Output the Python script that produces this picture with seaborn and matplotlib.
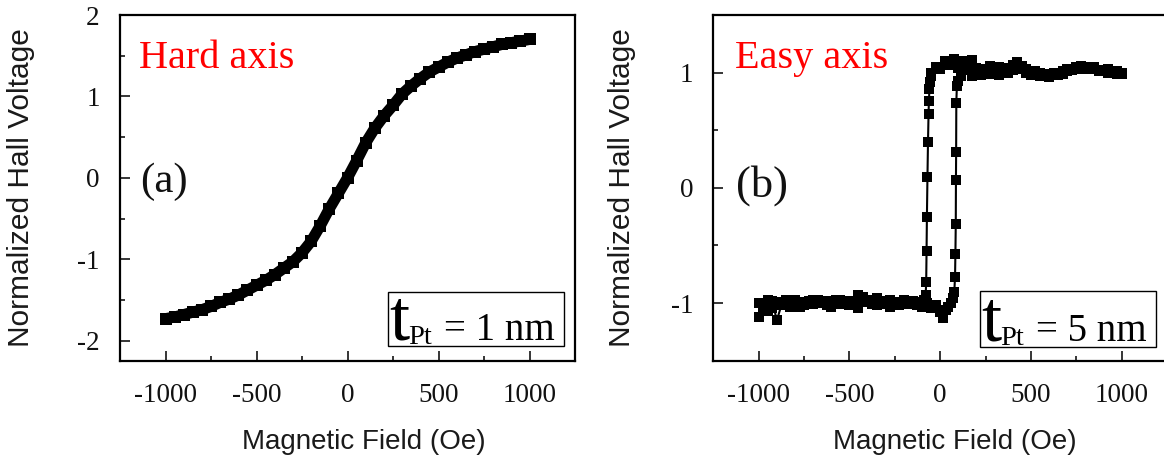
import numpy as np
import pandas as pd
import matplotlib
matplotlib.use("Agg")
import matplotlib.pyplot as plt
import seaborn as sns
from matplotlib.patches import Rectangle
from matplotlib.ticker import FixedLocator, MultipleLocator

# ---------------- data ----------------
# (a) hard axis, t_Pt = 1 nm
hard_field = [-1000, -950, -900, -850, -800, -750, -700, -650, -600, -550, -500,
              -450, -400, -350, -300, -250, -200, -150, -100, -50, 0,
              50, 100, 150, 200, 250, 300, 350, 400, 450, 500,
              550, 600, 650, 700, 750, 800, 850, 900, 950, 1000]
hard_voltage = [-1.73, -1.71, -1.68, -1.65, -1.62, -1.58, -1.53, -1.49, -1.44, -1.38, -1.32,
                -1.26, -1.19, -1.11, -1.03, -0.92, -0.78, -0.59, -0.38, -0.19, 0.00,
                0.21, 0.43, 0.61, 0.76, 0.89, 1.03, 1.13, 1.22, 1.30, 1.36,
                1.42, 1.47, 1.51, 1.55, 1.58, 1.61, 1.64, 1.66, 1.68, 1.70]

# (b) easy axis, t_Pt = 5 nm : descending sweep (+1000 -> -1000)
easy_down_field = [1000, 975, 950, 925, 900, 875, 850, 825, 800, 775, 750, 725, 700, 675,
                   650, 625, 600, 575, 550, 525, 500, 475, 450, 425, 400, 375, 350, 325,
                   300, 275, 250, 225, 200, 175, 150, 125, 100, 75, 50, 25, 0, -25, -50,
                   -52, -56, -59, -62, -64, -67, -70, -73, -75, -77, -80, -90, -100,
                   -125, -150, -175, -200, -225, -250, -275, -300, -325, -350, -375, -400,
                   -425, -450, -475, -500, -525, -550, -575, -600, -625, -650, -675, -700,
                   -725, -750, -775, -800, -825, -850, -875, -900, -925, -950, -975, -1000]
easy_down_voltage = [1.00, 0.99, 1.01, 1.00, 1.02, 1.01, 1.03, 1.04, 1.05, 1.03, 1.04, 1.02, 1.01, 0.99,
                     0.98, 0.99, 0.97, 0.99, 1.00, 0.98, 1.01, 1.03, 1.06, 1.04, 1.02, 1.00, 1.03, 1.05,
                     1.02, 0.99, 1.01, 1.03, 1.00, 0.97, 1.06, 1.10, 1.04, 1.12, 1.07, 1.10, 1.03, 1.05, 1.00,
                     0.97, 0.92, 0.86, 0.755, 0.64, 0.40, 0.095, -0.25, -0.55, -0.82, -0.93, -0.97, -0.99,
                     -1.02, -0.98, -1.00, -0.97, -1.01, -0.99, -1.03, -0.98, -1.00, -0.96, -1.01, -0.99,
                     -0.95, -0.93, -0.98, -1.02, -0.99, -1.01, -0.97, -0.99, -1.02, -0.98, -1.00, -0.97,
                     -1.01, -0.99, -1.03, -0.98, -1.00, -0.97, -1.02, -0.99, -1.04, -0.97, -1.06, -1.00]

# (b) ascending sweep (-1000 -> +1000)
easy_up_field = [-1000, -975, -950, -925, -900, -875, -850, -825, -800, -775, -750, -725, -700,
                 -675, -650, -625, -600, -575, -550, -525, -500, -475, -450, -425, -400, -375,
                 -350, -325, -300, -275, -250, -225, -200, -175, -150, -125, -100, -75, -50,
                 -25, 0, 15, 30, 45, 60, 70, 78, 82, 84, 86, 87, 88, 89, 92, 100, 115,
                 125, 150, 175, 200, 225, 250, 275, 300, 325, 350, 375, 400, 425, 450, 475,
                 500, 525, 550, 575, 600, 625, 650, 675, 700, 725, 750, 775, 800, 825, 850,
                 875, 900, 925, 950, 975, 1000]
easy_up_voltage = [-1.12, -1.02, -1.07, -0.98, -1.15, -1.02, -0.99, -1.03, -0.97, -1.00, -1.02, -0.98, -1.01,
                   -0.97, -1.00, -0.98, -1.03, -0.99, -0.97, -1.00, -0.98, -1.01, -1.04, -0.99, -0.97, -1.00,
                   -1.02, -0.98, -1.01, -0.97, -1.00, -1.02, -0.99, -1.01, -0.98, -1.00, -1.03, -1.00, -1.04,
                   -1.02, -1.08, -1.13, -1.06, -1.03, -1.00, -0.96, -0.90, -0.77, -0.57, -0.31, 0.07, 0.31, 0.74, 0.88, 0.93, 0.97,
                   1.08, 1.02, 1.11, 1.04, 0.98, 1.03, 1.06, 1.01, 0.98, 1.04, 1.02, 1.07, 1.09, 1.03, 1.00,
                   0.98, 1.01, 0.97, 0.99, 0.96, 1.00, 0.98, 1.01, 1.03, 1.02, 1.05, 1.06, 1.04, 1.03, 1.05,
                   1.02, 1.01, 1.03, 1.00, 1.01, 0.99]

x_ticks = [-1000, -500, 0, 500, 1000]
x_ticklabels = ["-1000", "-500", "0", "500", "1000"]
a_yticks = [-2, -1, 0, 1, 2]
a_yticklabels = ["-2", "-1", "0", "1", "2"]
b_yticks = [-1, 0, 1]
b_yticklabels = ["-1", "0", "1"]

xlabel_text = "Magnetic Field (Oe)"
ylabel_text = "Normalized Hall Voltage"

# ---------------- style ----------------
sns.set_style("ticks")
plt.rcParams['font.family'] = ['Liberation Serif', 'DejaVu Serif']

fig = plt.figure(figsize=(11.64, 4.59), dpi=100)
axA = fig.add_axes([0.1031, 0.2135, 0.3909, 0.7538])
axB = fig.add_axes([0.6128, 0.2142, 0.3898, 0.7532])

dfA = pd.DataFrame({"H": hard_field, "V": hard_voltage})
sns.lineplot(data=dfA, x="H", y="V", ax=axA, color="black", lw=8,
             marker="s", markersize=8.5, markeredgewidth=0, sort=False, estimator=None)

dfB = pd.concat([
    pd.DataFrame({"H": easy_down_field, "V": easy_down_voltage, "branch": "down"}),
    pd.DataFrame({"H": easy_up_field, "V": easy_up_voltage, "branch": "up"}),
], ignore_index=True)
sns.lineplot(data=dfB, x="H", y="V", units="branch", ax=axB, color="black", lw=1.5,
             marker="s", markersize=7, markeredgewidth=0, sort=False, estimator=None)


def style_axes(ax, ylim, yticks, yticklabels, ylab_x, xlab_x):
    ax.set_xlim(-1250, 1250)
    ax.set_ylim(*ylim)
    ax.xaxis.set_major_locator(FixedLocator(x_ticks))
    ax.set_xticklabels(x_ticklabels)
    ax.xaxis.set_minor_locator(MultipleLocator(250))
    ax.yaxis.set_major_locator(FixedLocator(yticks))
    ax.set_yticklabels(yticklabels)
    ax.yaxis.set_minor_locator(MultipleLocator(0.5))
    ax.tick_params(which="both", direction="in", color="black", width=1.1)
    ax.tick_params(which="major", length=7)
    ax.tick_params(which="minor", length=3.6)
    ax.tick_params(axis="x", which="major", pad=16, labelsize=19.5)
    ax.tick_params(axis="y", which="major", pad=14.5, labelsize=19.5)
    for lab in ax.get_xticklabels() + ax.get_yticklabels():
        lab.set_family(["Liberation Serif", "DejaVu Serif"])
        lab.set_color("#111111")
    for s in ax.spines.values():
        s.set_visible(True)
        s.set_linewidth(1.6)
        s.set_color("black")
    ax.set_xlabel(xlabel_text, fontsize=20, family=["Liberation Sans", "DejaVu Sans"], color="#1a1a1a")
    ax.set_ylabel(ylabel_text, fontsize=21.5, family=["Liberation Sans", "DejaVu Sans"], color="#1a1a1a")
    ax.yaxis.set_label_coords(ylab_x, 0.5)
    ax.xaxis.set_label_coords(xlab_x, -0.197)
    ax.set_facecolor("white")


style_axes(axA, (-2.25, 2.0), a_yticks, a_yticklabels, -0.187, 0.535)
style_axes(axB, (-1.5, 1.5), b_yticks, b_yticklabels, -0.170, 0.533)

serif = ["Liberation Serif", "DejaVu Serif"]

axA.text(0.042, 0.847, "Hard axis", transform=axA.transAxes, color="#ff0000",
         fontsize=29, family=serif, va="baseline", ha="left")
axB.text(0.048, 0.847, "Easy axis", transform=axB.transAxes, color="#ff0000",
         fontsize=29, family=serif, va="baseline", ha="left")
axA.text(0.044, 0.488, "(a)", transform=axA.transAxes, color="#111111",
         fontsize=31, family=serif, va="baseline", ha="left")
axB.text(0.050, 0.474, "(b)", transform=axB.transAxes, color="#111111",
         fontsize=32, family=serif, va="baseline", ha="left")


def thickness_box(ax, x0, y0, w, h, value_text):
    ax.add_patch(Rectangle((x0, y0), w, h, transform=ax.transAxes, fill=False,
                           edgecolor="black", lw=1.0, zorder=5))
    ax.annotate("t", xy=(x0, y0), xycoords="axes fraction", xytext=(1.5, 6.5),
                textcoords="offset pixels", fontsize=52, family=serif,
                va="baseline", ha="left", color="black", zorder=6)
    ax.annotate("Pt", xy=(x0, y0), xycoords="axes fraction", xytext=(20, 2),
                textcoords="offset pixels", fontsize=20.5, family=serif,
                va="baseline", ha="left", color="black", zorder=6)
    ax.annotate(value_text, xy=(x0, y0), xycoords="axes fraction", xytext=(55.5, 6.5),
                textcoords="offset pixels", fontsize=28, family=serif,
                va="baseline", ha="left", color="black", zorder=6)


thickness_box(axA, 0.589, 0.043, 0.387, 0.156, "= 1 nm")
thickness_box(axB, 0.588, 0.039, 0.388, 0.164, "= 5 nm")

fig.savefig("out.png", dpi=100, facecolor="white")
